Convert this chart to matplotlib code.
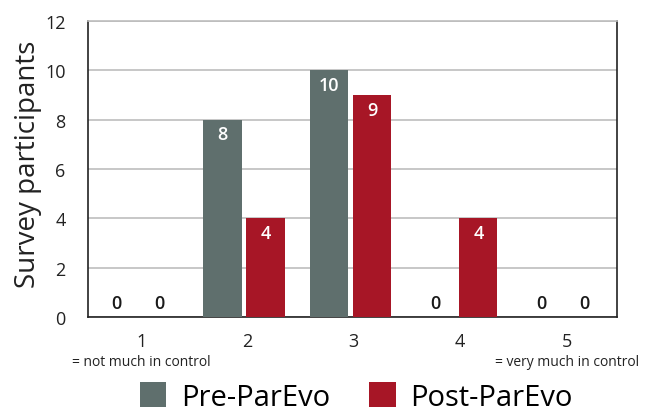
import numpy as np
import matplotlib
matplotlib.use("Agg")
import matplotlib.pyplot as plt
from matplotlib.patches import Patch

# ---- data ----
categories = ["1", "2", "3", "4", "5"]
pre_parevo = [0, 8, 10, 0, 0]
post_parevo = [0, 4, 9, 4, 0]
series_names = ["Pre-ParEvo", "Post-ParEvo"]
y_ticks = [0, 2, 4, 6, 8, 10, 12]

GRAY = "#5f6f6d"
RED = "#a71626"

plt.rcParams["font.family"] = ["Open Sans", "DejaVu Sans"]

fig = plt.figure(figsize=(6.56, 4.14), dpi=100)
ax = fig.add_axes([0.134, 0.232, 0.806, 0.715])

x = np.arange(1, len(categories) + 1)
w = 0.36
b1 = ax.bar(x - 0.235, pre_parevo, w, color=GRAY, zorder=3)
b2 = ax.bar(x + 0.17, post_parevo, w, color=RED, zorder=3)

# value labels: white inside the bar, dark above the baseline for zeros
for bars, vals in ((b1, pre_parevo), (b2, post_parevo)):
    for rect, v in zip(bars, vals):
        cx = rect.get_x() + rect.get_width() / 2
        if v > 0:
            ax.text(cx, v - 0.6, str(v), ha="center", va="center",
                    color="white", fontsize=13, fontweight="semibold", zorder=4)
        else:
            ax.text(cx, 0.55, str(v), ha="center", va="center",
                    color="#1a1a1a", fontsize=13, fontweight="semibold", zorder=4)

ax.set_xlim(0.5, 5.47)
ax.set_ylim(0, 12)
ax.set_yticks(y_ticks)
ax.set_xticks(x)
ax.set_xticklabels(categories)
ax.tick_params(axis="both", length=0, labelsize=13, colors="#222222")
ax.tick_params(axis="x", pad=11)
ax.tick_params(axis="y", pad=16)
ax.yaxis.grid(True, color="#bdbdbd", linewidth=1.2, zorder=0)
ax.set_axisbelow(True)

for side in ("left", "bottom", "right"):
    ax.spines[side].set_color("#222222")
    ax.spines[side].set_linewidth(1.2)
ax.spines["top"].set_color("#bdbdbd")
ax.spines["top"].set_linewidth(1.2)

ax.set_ylabel("Survey participants", fontsize=20, color="#222222")
ax.yaxis.set_label_coords(-0.086, 0.52)

# scale end descriptions under the first and last tick
ax.text(1, -1.8, "= not much in control", ha="center", va="center",
        fontsize=10, color="#222222", clip_on=False)
ax.text(5, -1.8, "= very much in control", ha="center", va="center",
        fontsize=10, color="#222222", clip_on=False)

handles = [Patch(facecolor=GRAY), Patch(facecolor=RED)]
fig.legend(handles, series_names, loc="lower center", ncol=2,
           bbox_to_anchor=(0.543, -0.06), frameon=False, fontsize=21,
           handlelength=0.9, handleheight=0.9, columnspacing=1.35,
           handletextpad=0.5)

fig.savefig("out.png", dpi=100)
